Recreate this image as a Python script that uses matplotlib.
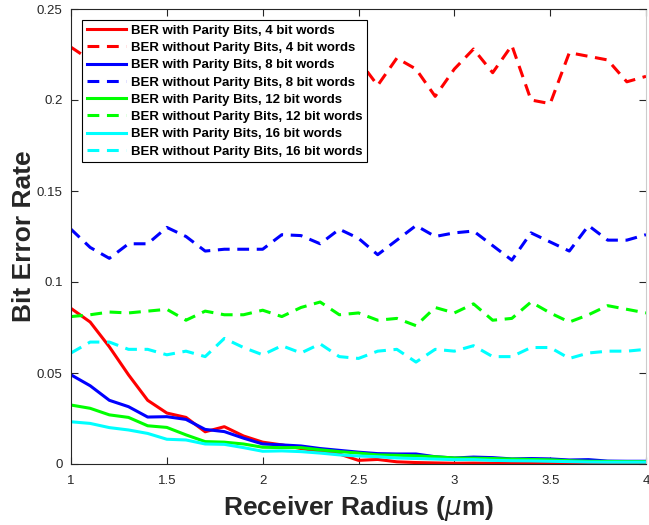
import matplotlib
matplotlib.use("Agg")
import matplotlib.pyplot as plt
import numpy as np
from matplotlib.ticker import FuncFormatter

plt.rcParams['font.family'] = ['Liberation Sans', 'DejaVu Sans']
plt.rcParams['lines.scale_dashes'] = False

radius = [1.0, 1.1, 1.2, 1.3, 1.4, 1.5, 1.6, 1.7, 1.8, 1.9, 2.0,
          2.1, 2.2, 2.3, 2.4, 2.5, 2.6, 2.7, 2.8, 2.9, 3.0,
          3.1, 3.2, 3.3, 3.4, 3.5, 3.6, 3.7, 3.8, 3.9, 4.0]

ber_par_4 = [0.0855, 0.078, 0.0644, 0.049, 0.035, 0.028, 0.0256, 0.0177, 0.0205, 0.0154, 0.012,
             0.0105, 0.0085, 0.007, 0.0055, 0.002, 0.0025, 0.0012, 0.0008, 0.0006, 0.0004,
             0.0005, 0.0004, 0.0003, 0.0003, 0.0003, 0.0002, 0.0002, 0.0002, 0.0002, 0.0002]
ber_nopar_4 = [0.229, 0.222, 0.215, 0.226, 0.218, 0.210, 0.224, 0.219, 0.228, 0.212, 0.220,
               0.225, 0.214, 0.221, 0.227, 0.222, 0.208, 0.223, 0.217, 0.202, 0.217,
               0.228, 0.215, 0.230, 0.200, 0.198, 0.226, 0.224, 0.222, 0.210, 0.213]
ber_par_8 = [0.049, 0.043, 0.035, 0.0315, 0.0258, 0.026, 0.0245, 0.019, 0.0178, 0.0142, 0.011,
             0.0105, 0.0099, 0.0085, 0.0075, 0.0065, 0.0057, 0.0055, 0.0055, 0.004, 0.0033,
             0.0038, 0.0035, 0.0028, 0.003, 0.0028, 0.0022, 0.0024, 0.0016, 0.0015, 0.0015]
ber_nopar_8 = [0.129, 0.119, 0.113, 0.121, 0.121, 0.130, 0.125, 0.117, 0.118, 0.118, 0.118,
               0.126, 0.1255, 0.121, 0.129, 0.124, 0.115, 0.123, 0.131, 0.125, 0.127,
               0.128, 0.120, 0.112, 0.127, 0.122, 0.117, 0.131, 0.123, 0.123, 0.126]
ber_par_12 = [0.0324, 0.0306, 0.027, 0.0256, 0.021, 0.0201, 0.016, 0.0123, 0.012, 0.011, 0.0092,
              0.009, 0.009, 0.0078, 0.0068, 0.006, 0.005, 0.0048, 0.0045, 0.004, 0.0033,
              0.0032, 0.003, 0.0027, 0.0025, 0.0023, 0.0018, 0.0015, 0.0014, 0.0013, 0.0013]
ber_nopar_12 = [0.081, 0.082, 0.0835, 0.083, 0.084, 0.085, 0.079, 0.084, 0.082, 0.082, 0.0845,
                0.081, 0.086, 0.089, 0.082, 0.083, 0.079, 0.080, 0.076, 0.086, 0.083,
                0.088, 0.079, 0.080, 0.089, 0.083, 0.078, 0.082, 0.087, 0.085, 0.083]
ber_par_16 = [0.0232, 0.0223, 0.020, 0.0187, 0.0168, 0.0136, 0.0132, 0.011, 0.0108, 0.009, 0.007,
              0.0072, 0.0068, 0.006, 0.005, 0.0044, 0.004, 0.0033, 0.003, 0.0027, 0.0024,
              0.0024, 0.002, 0.0018, 0.0017, 0.0015, 0.0013, 0.0011, 0.001, 0.001, 0.001]
ber_nopar_16 = [0.061, 0.067, 0.067, 0.063, 0.063, 0.060, 0.062, 0.059, 0.069, 0.064, 0.060,
                0.065, 0.061, 0.066, 0.059, 0.058, 0.062, 0.063, 0.056, 0.063, 0.062,
                0.065, 0.059, 0.059, 0.064, 0.064, 0.058, 0.061, 0.062, 0.062, 0.063]

series = [
    ("BER with Parity Bits, 4 bit words", ber_par_4, (1, 0, 0), '-'),
    ("BER without Parity Bits, 4 bit words", ber_nopar_4, (1, 0, 0), '--'),
    ("BER with Parity Bits, 8 bit words", ber_par_8, (0, 0, 1), '-'),
    ("BER without Parity Bits, 8 bit words", ber_nopar_8, (0, 0, 1), '--'),
    ("BER with Parity Bits, 12 bit words", ber_par_12, (0, 1, 0), '-'),
    ("BER without Parity Bits, 12 bit words", ber_nopar_12, (0, 1, 0), '--'),
    ("BER with Parity Bits, 16 bit words", ber_par_16, (0, 1, 1), '-'),
    ("BER without Parity Bits, 16 bit words", ber_nopar_16, (0, 1, 1), '--'),
]

fig = plt.figure(figsize=(6.49, 5.25), dpi=100)
ax = fig.add_axes([71 / 649, 61 / 525, 575 / 649, 455 / 525])

for label, vals, color, ls in series:
    if ls == '--':
        ax.plot(radius, vals, color=color, lw=2.2, linestyle=(0, (8.5, 5.5)),
                label=label, solid_joinstyle='round', dash_capstyle='butt')
    else:
        ax.plot(radius, vals, color=color, lw=2.2, linestyle='-', label=label,
                solid_joinstyle='round')

ax.set_xlim(1, 4)
ax.set_ylim(0, 0.25)
ax.set_xticks([1, 1.5, 2, 2.5, 3, 3.5, 4])
ax.set_yticks([0, 0.05, 0.1, 0.15, 0.2, 0.25])
fmt = FuncFormatter(lambda v, p: f"{v:g}")
ax.xaxis.set_major_formatter(fmt)
ax.yaxis.set_major_formatter(fmt)

axcol = (0.15, 0.15, 0.15)
for name, s in ax.spines.items():
    s.set_color(axcol)
    s.set_linewidth(0.8)
ax.spines['right'].set_color((0.8, 0.8, 0.8))
ax.tick_params(direction='in', top=True, right=True, length=5, width=0.8,
               colors=axcol, labelsize=9.5, labelcolor=axcol)
ax.tick_params(axis='x', pad=8)
ax.tick_params(axis='y', pad=6)

ax.set_xlabel(r"Receiver Radius ($\mu$m)", fontsize=19, fontweight='bold',
              color=axcol, labelpad=5)
ax.set_ylabel("Bit Error Rate", fontsize=19, fontweight='bold', color=axcol,
              labelpad=0.5)

leg = ax.legend(loc='upper left', bbox_to_anchor=(0.019, 0.976), borderaxespad=0,
                fancybox=False, framealpha=1, edgecolor='black',
                prop={'weight': 'bold', 'size': 9.5}, handlelength=3.0,
                handletextpad=0.35, labelspacing=0.38, borderpad=0.35)
leg.get_frame().set_linewidth(0.8)

fig.savefig("out.png", dpi=100)
